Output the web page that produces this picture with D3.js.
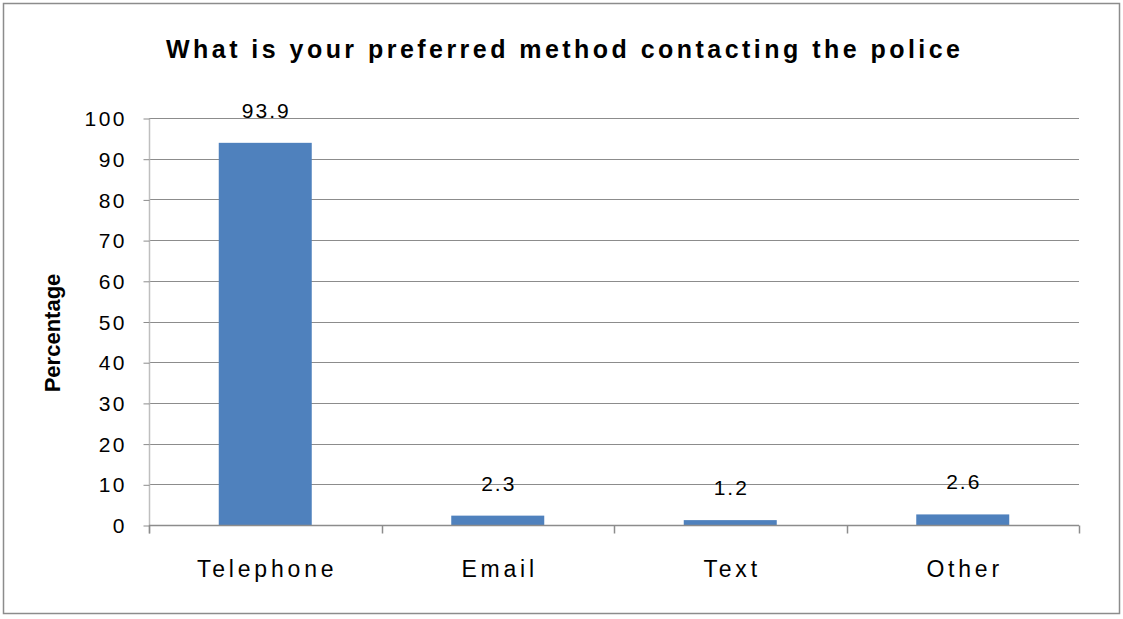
<!DOCTYPE html>
<html><head><meta charset="utf-8">
<script src="https://cdn.jsdelivr.net/npm/d3@7"></script>
<style>body{margin:0;background:#fff}svg{display:block}</style>
</head><body>
<svg id="c" width="1123" height="619"></svg>
<script>
const categories = ["Telephone", "Email", "Text", "Other"];
const values = [93.9, 2.3, 1.2, 2.6];
const yTicks = [0, 10, 20, 30, 40, 50, 60, 70, 80, 90, 100];
const title = "What is your preferred method contacting the police";
const yTitle = "Percentage";

const svg = d3.select("#c");
const font = "'Liberation Sans', Arial, sans-serif";
const m = {left: 149, right: 1079, top: 118, bottom: 525};

svg.append("rect").attr("x", 3.5).attr("y", 3.5).attr("width", 1116).attr("height", 610)
  .attr("fill", "#fff").attr("stroke", "#8c8c8c").attr("stroke-width", 1.5);

const x = d3.scaleBand().domain(categories).range([m.left, m.right]).paddingInner(0.6).paddingOuter(0.3);
const y = d3.scaleLinear().domain([0, 100]).range([m.bottom, m.top]);

// gridlines
svg.append("g").selectAll("line").data(yTicks.filter(d => d > 0)).join("line")
  .attr("x1", m.left).attr("x2", m.right)
  .attr("y1", d => Math.round(y(d)) + 0.5).attr("y2", d => Math.round(y(d)) + 0.5)
  .attr("stroke", "#8c8c8c").attr("stroke-width", 1);

// y axis
const ya = svg.append("g").attr("transform", `translate(${m.left + 0.5},0.5)`)
  .call(d3.axisLeft(y).tickValues(yTicks).tickSize(6).tickPadding(19).tickFormat(d3.format("d")));
ya.select(".domain").attr("stroke", "#bfbfbf").attr("stroke-width", 1.5).attr("d", `M0,${m.bottom + 8}V${m.top}`);
ya.selectAll(".tick line").attr("stroke", "#8c8c8c");
ya.selectAll(".tick text").attr("font-family", font).attr("font-size", 21).attr("fill", "#000")
  .attr("letter-spacing", 2.5).attr("dx", 2.5).attr("dy", "0.34em");

// bars
svg.append("g").selectAll("rect").data(values).join("rect")
  .attr("x", (d, i) => x(categories[i])).attr("width", x.bandwidth())
  .attr("y", d => y(d)).attr("height", d => y(0) - y(d))
  .attr("fill", "#4f81bd");

// x axis
const xa = svg.append("g").attr("transform", `translate(0,${m.bottom + 0.5})`);
xa.append("line").attr("x1", m.left).attr("x2", m.right).attr("stroke", "#8c8c8c").attr("stroke-width", 1.5);
const bounds = [m.left, ...categories.map(c => x(c) + x.bandwidth() / 2 + x.step() / 2)];
xa.selectAll(".xt").data(bounds).join("line").attr("class", "xt")
  .attr("x1", d => Math.round(d) + 0.5).attr("x2", d => Math.round(d) + 0.5).attr("y1", 0).attr("y2", 8)
  .attr("stroke", "#8c8c8c").attr("stroke-width", 1.5);
xa.selectAll(".xl").data(categories).join("text").attr("class", "xl")
  .attr("x", d => x(d) + x.bandwidth() / 2 + 1.9).attr("y", 51.5)
  .attr("text-anchor", "middle").attr("font-family", font).attr("font-size", 23)
  .attr("letter-spacing", 3.8).text(d => d);

// data labels
svg.append("g").selectAll("text").data(values).join("text")
  .attr("x", (d, i) => x(categories[i]) + x.bandwidth() / 2 + 1)
  .attr("y", d => y(d) - 25)
  .attr("text-anchor", "middle").attr("font-family", font).attr("font-size", 21)
  .attr("letter-spacing", 2).text(d => d3.format(".1f")(d));

// title
svg.append("text").attr("x", 563).attr("y", 58).attr("text-anchor", "middle")
  .attr("font-family", font).attr("font-weight", "bold").attr("font-size", 25)
  .attr("textLength", 794).attr("lengthAdjust", "spacing").text(title);

// y title
svg.append("text").attr("transform", "translate(60,333) rotate(-90)").attr("text-anchor", "middle")
  .attr("font-family", font).attr("font-weight", "bold").attr("font-size", 22).text(yTitle);
</script>
</body></html>
